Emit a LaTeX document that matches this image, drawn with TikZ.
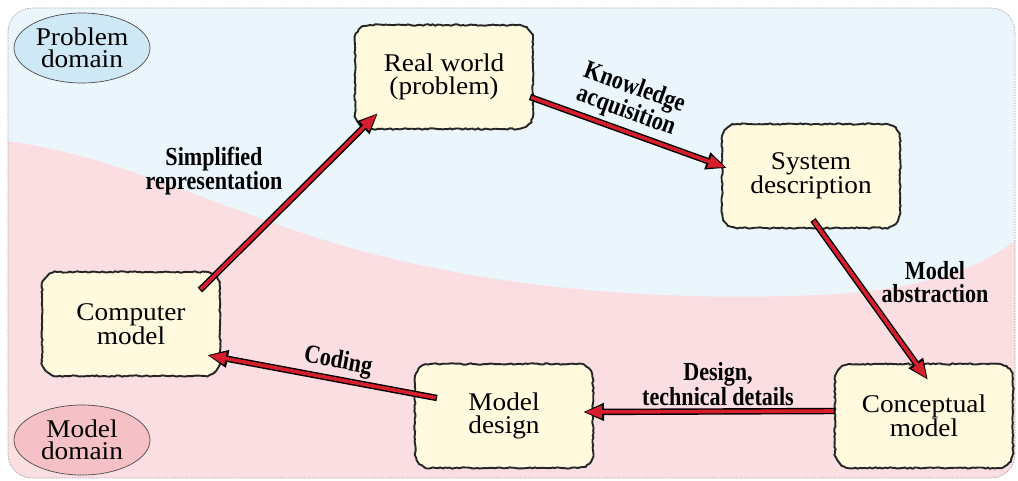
\documentclass[tikz,border=0pt]{standalone}
\usepackage{fontspec}
\setmainfont{Liberation Serif}[FakeStretch=1.07]
\newfontfamily\lblfont{Liberation Serif}[FakeStretch=0.85]
\usetikzlibrary{arrows.meta,decorations.pathmorphing,shapes.geometric}
\definecolor{bgblue}{RGB}{234,245,252}
\definecolor{bgpink}{RGB}{250,222,226}
\definecolor{boxfill}{RGB}{255,250,221}
\definecolor{ellblue}{RGB}{206,232,246}
\definecolor{ellpink}{RGB}{245,192,198}
\definecolor{arrred}{RGB}{215,30,45}
\begin{document}
\pgfmathsetseed{7}
\begin{tikzpicture}[x=1pt,y=-1pt,
  box/.style={fill=boxfill, rounded corners=15pt, minimum width=178pt, minimum height=104pt,
    align=center, inner sep=0pt, font=\fontsize{25.5}{23.5}\selectfont,
    postaction={draw=black!85, line width=1.9pt, sharp corners, decorate,
      decoration={random steps, segment length=2.5pt, amplitude=0.7pt}}},
  ell/.style={ellipse, draw=black!70, line width=0.7pt, minimum width=136pt, minimum height=70pt,
    inner sep=0pt, align=center, font=\fontsize{25.5}{21.5}\selectfont},
  lbl/.style={align=center, font=\lblfont\fontsize{26}{23}\selectfont\bfseries, inner sep=0pt},
  flow/.style={line width=3.6pt, draw=arrred, -{Triangle[length=17pt,width=12pt]},
    shorten >=1.8pt, shorten <=1.2pt,
    preaction={draw=black, line width=6.4pt, shorten >=0pt, shorten <=0pt,
      -{Triangle[length=21pt,width=16.5pt]}}}
]
\useasboundingbox (0,0) rectangle (1018,480);
\begin{scope}
  \clip[rounded corners=24pt] (8,8) rectangle (1015,478);
  \fill[bgblue] (0,0) rectangle (1018,480);
  \fill[bgpink] (0,140) .. controls (150,160) and (250,230) .. (420,265)
    .. controls (560,295) and (700,300) .. (820,295)
    .. controls (920,290) and (980,270) .. (1018,238) -- (1018,480) -- (0,480) -- cycle;
\end{scope}
\draw[gray!70, line width=0.7pt, dash pattern=on 1.5pt off 1.2pt, rounded corners=24pt] (8,8) rectangle (1015,478);

\node[ell, fill=ellblue] (pd) at (82,48) {Problem\\domain};
\node[ell, fill=ellpink] (mdom) at (82,440) {Model\\domain};

\node[box] (rw) at (444,77) {Real world\\(problem)};
\node[box] (sd) at (811,176) {System\\description};
\node[box] (cm) at (131,324) {Computer\\model};
\node[box] (md) at (504,416) {Model\\design};
\node[box] (cp) at (924,416) {Conceptual\\model};

\draw[flow] ([shift={(69,-34)}]cm.center) -- ([shift={(-66,36)}]rw.center);
\draw[flow] ([shift={(86,20)}]rw.center) -- ([shift={(-84,-8)}]sd.center);
\draw[flow] ([shift={(2,44)}]sd.center) -- ([shift={(4,-36)}]cp.center);
\draw[flow] ([shift={(-89,-5)}]cp.center) -- ([shift={(79,-4)}]md.center);
\draw[flow] ([shift={(-67,-18)}]md.center) -- ([shift={(76,31)}]cm.center);

\node[lbl] (l1) at (214,171) {Simplified\\representation};
\node[lbl, rotate=-20] (l2) at (630,100) {Knowledge\\acquisition};
\node[lbl] (l3) at (935,282) {Model\\abstraction};
\node[lbl, rotate=-10.5] (l4) at (338,362) {Coding};
\node[lbl] (l5) at (718,384) {Design,\\technical details};
\end{tikzpicture}
\end{document}
